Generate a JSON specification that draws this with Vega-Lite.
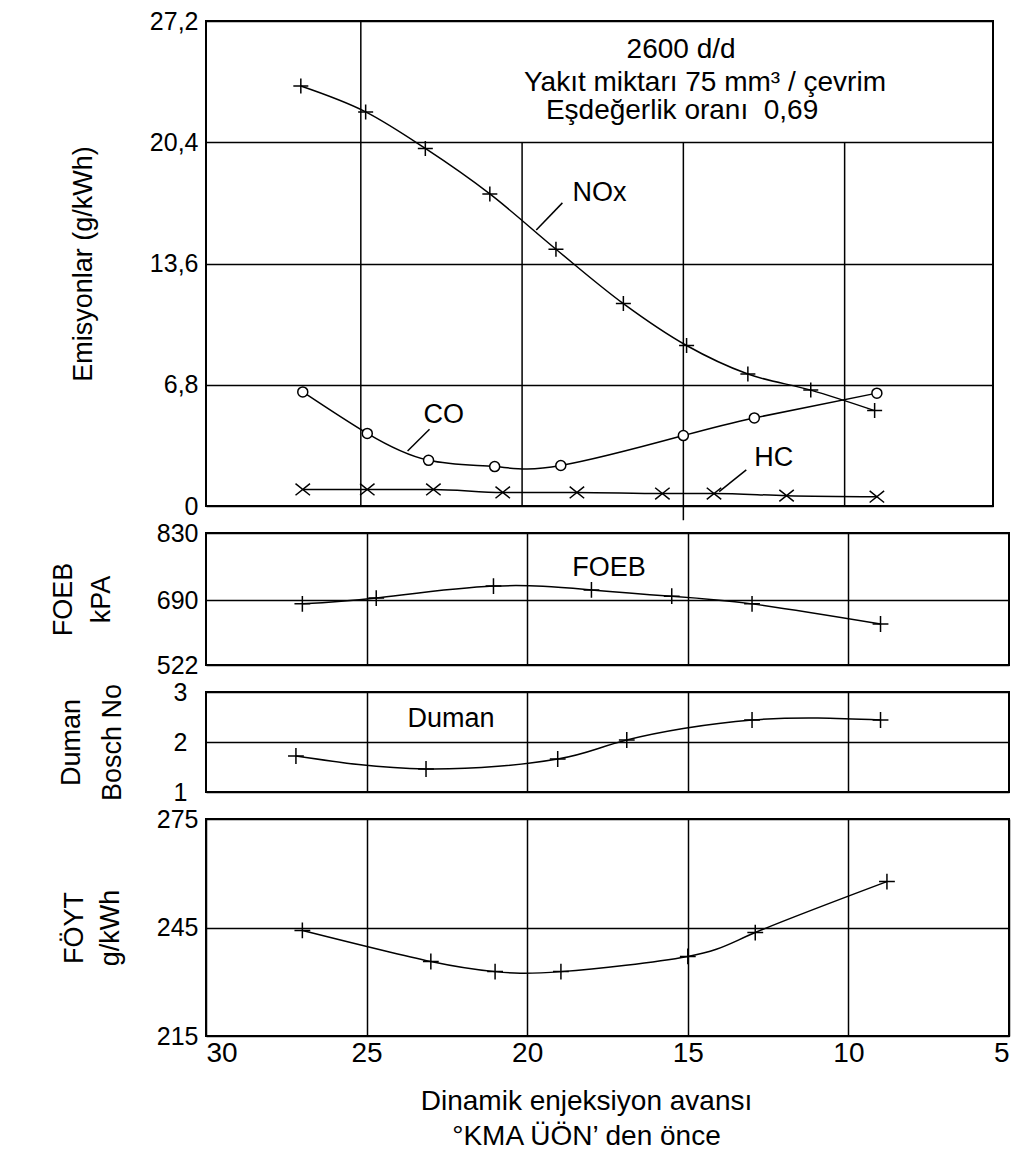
{
  "$schema": "https://vega.github.io/schema/vega-lite/v6.json",
  "padding": {"left": 48, "top": 8, "right": 5, "bottom": 5},
  "spacing": 27,
  "bounds": "flush",
  "background": "white",
  "config": {
    "view": {"stroke": "black", "strokeWidth": 2},
    "font": "Liberation Sans",
    "axis": {
      "labelFont": "Liberation Sans", "titleFont": "Liberation Sans",
      "labelColor": "black", "titleColor": "black", "titleFontWeight": "normal",
      "domain": false, "ticks": false, "gridColor": "black", "gridOpacity": 1, "gridWidth": 1.5,
      "labelFontSize": 25, "titleFontSize": 27
    }
  },
  "datasets": {
    "nox": [
      {"x": 26.86, "v": 23.55}, {"x": 24.85, "v": 22.1}, {"x": 23.0, "v": 20.05}, {"x": 21.0, "v": 17.5},
      {"x": 18.95, "v": 14.4}, {"x": 16.86, "v": 11.35}, {"x": 14.9, "v": 9.0}, {"x": 13.0, "v": 7.4},
      {"x": 11.05, "v": 6.5}, {"x": 9.07, "v": 5.35}
    ],
    "co": [
      {"x": 26.8, "v": 6.4}, {"x": 24.8, "v": 4.07}, {"x": 22.9, "v": 2.56}, {"x": 20.85, "v": 2.21},
      {"x": 18.8, "v": 2.27}, {"x": 15.0, "v": 3.95}, {"x": 12.8, "v": 4.94}, {"x": 9.0, "v": 6.33}
    ],
    "hc": [
      {"x": 26.8, "v": 0.93}, {"x": 24.8, "v": 0.93}, {"x": 22.75, "v": 0.93}, {"x": 20.6, "v": 0.76},
      {"x": 18.3, "v": 0.76}, {"x": 15.65, "v": 0.7}, {"x": 14.05, "v": 0.7}, {"x": 11.8, "v": 0.58}, {"x": 9.0, "v": 0.52}
    ],
    "gridTop": [
      {"x": 25, "y": 0, "y2": 27.2}, {"x": 20, "y": 0, "y2": 20.4}, {"x": 15, "y": -0.8, "y2": 20.4}, {"x": 10, "y": 0, "y2": 20.4}
    ],
    "leaders": [
      {"x": 19.56, "y": 15.48, "x2": 18.75, "y2": 17.0},
      {"x": 23.55, "y": 3.08, "x2": 22.87, "y2": 4.3},
      {"x": 13.89, "y": 0.81, "x2": 13.05, "y2": 2.03}
    ],
    "curveLabels": [
      {"x": 17.6, "y": 17.12, "t": "NOx"},
      {"x": 22.43, "y": 4.65, "t": "CO"},
      {"x": 12.2, "y": 2.27, "t": "HC"}
    ],
    "boxText": [
      {"x": 15.07, "y": 25.15, "t": "2600 d/d"},
      {"x": 14.33, "y": 23.3, "t": "Yakıt miktarı 75 mm³ / çevrim"},
      {"x": 15.04, "y": 21.7, "t": "Eşdeğerlik oranı\u00a0 0,69"}
    ],
    "foeb": [
      {"x": 27.0, "v": 680}, {"x": 24.7, "v": 694}, {"x": 21.05, "v": 719}, {"x": 18.0, "v": 711},
      {"x": 15.5, "v": 698}, {"x": 13.0, "v": 680}, {"x": 9.0, "v": 628}
    ],
    "duman": [
      {"x": 27.2, "v": 1.72}, {"x": 23.15, "v": 1.46}, {"x": 19.05, "v": 1.66}, {"x": 16.9, "v": 2.04},
      {"x": 13.0, "v": 2.44}, {"x": 9.0, "v": 2.44}
    ],
    "foyt": [
      {"x": 27.0, "v": 244.2}, {"x": 23.0, "v": 235.6}, {"x": 21.0, "v": 232.8}, {"x": 18.95, "v": 232.8},
      {"x": 15.0, "v": 237.0}, {"x": 12.9, "v": 243.6}, {"x": 8.8, "v": 257.7}
    ]
  },
  "vconcat": [
    {
      "width": 787, "height": 485,
      "encoding": {
        "x": {"field": "x", "type": "quantitative", "scale": {"domain": [5.4, 29.8], "reverse": true, "nice": false, "zero": false}, "axis": null},
        "y": {"field": "v", "type": "quantitative", "scale": {"domain": [0, 27.2], "nice": false},
          "axis": {"values": [0, 6.8, 13.6, 20.4, 27.2], "grid": true, "labelPadding": 8,
            "labelExpr": "datum.value == 0 ? '0' : replace(format(datum.value, '.1f'), '.', ',')",
            "title": "Emisyonlar (g/kWh)", "titlePadding": 52}}
      },
      "layer": [
        {"data": {"name": "gridTop"}, "mark": {"type": "rule", "color": "black", "strokeWidth": 1.5},
          "encoding": {"y": {"field": "y", "type": "quantitative"}, "y2": {"field": "y2"}}},
        {"data": {"name": "nox"}, "mark": {"type": "line", "color": "black", "strokeWidth": 1.5, "interpolate": "monotone"}},
        {"data": {"name": "co"}, "mark": {"type": "line", "color": "black", "strokeWidth": 1.5, "interpolate": "natural"}},
        {"data": {"name": "hc"}, "mark": {"type": "line", "color": "black", "strokeWidth": 1.5, "interpolate": "monotone"}},
        {"data": {"name": "nox"}, "mark": {"type": "point", "shape": "M-1,0L1,0M0,-1L0,1", "size": 225, "filled": false, "stroke": "black", "strokeWidth": 1.5, "opacity": 1}},
        {"data": {"name": "co"}, "mark": {"type": "point", "shape": "circle", "size": 100, "filled": true, "fill": "white", "stroke": "black", "strokeWidth": 1.5, "opacity": 1}},
        {"data": {"name": "hc"}, "mark": {"type": "point", "shape": "M-1,-0.8L1,0.8M-1,0.8L1,-0.8", "size": 210, "filled": false, "stroke": "black", "strokeWidth": 1.5, "opacity": 1}},
        {"data": {"name": "leaders"}, "mark": {"type": "rule", "color": "black", "strokeWidth": 1.5},
          "encoding": {"y": {"field": "y", "type": "quantitative"}, "x2": {"field": "x2"}, "y2": {"field": "y2"}}},
        {"data": {"name": "curveLabels"}, "mark": {"type": "text", "fontSize": 27, "align": "center", "baseline": "alphabetic", "color": "black"},
          "encoding": {"y": {"field": "y", "type": "quantitative"}, "text": {"field": "t"}}},
        {"data": {"name": "boxText"}, "mark": {"type": "text", "fontSize": 28, "align": "center", "baseline": "alphabetic", "color": "black"},
          "encoding": {"y": {"field": "y", "type": "quantitative"}, "text": {"field": "t"}}}
      ]
    },
    {
      "width": 803, "height": 132,
      "data": {"name": "foeb"},
      "encoding": {
        "x": {"field": "x", "type": "quantitative", "scale": {"domain": [5, 30], "reverse": true, "nice": false, "zero": false},
          "axis": {"values": [25, 20, 15, 10], "labels": false, "title": null, "grid": true}},
        "y": {"field": "v", "type": "quantitative", "scale": {"domain": [522, 690, 830], "range": [132, 67, 0], "nice": false, "zero": false},
          "axis": {"values": [522, 690, 830], "grid": true, "labelPadding": 8, "title": ["FOEB", "kPA"], "titleLineHeight": 38, "titlePadding": 41}}
      },
      "layer": [
        {"mark": {"type": "line", "color": "black", "strokeWidth": 1.5, "interpolate": "natural"}},
        {"mark": {"type": "point", "shape": "M-1,0L1,0M0,-1L0,1", "size": 250, "filled": false, "stroke": "black", "strokeWidth": 1.5, "opacity": 1}},
        {"data": {"values": [{"x": 17.45, "v": 740, "t": "FOEB"}]}, "mark": {"type": "text", "fontSize": 27, "align": "center", "baseline": "alphabetic", "color": "black"},
          "encoding": {"text": {"field": "t"}}}
      ]
    },
    {
      "width": 803, "height": 100,
      "data": {"name": "duman"},
      "encoding": {
        "x": {"field": "x", "type": "quantitative", "scale": {"domain": [5, 30], "reverse": true, "nice": false, "zero": false},
          "axis": {"values": [25, 20, 15, 10], "labels": false, "title": null, "grid": true}},
        "y": {"field": "v", "type": "quantitative", "scale": {"domain": [1, 3], "nice": false, "zero": false},
          "axis": {"values": [1, 2, 3], "labelExpr": "format(datum.value, 'd')", "labelOverlap": false, "grid": true, "labelPadding": 19, "title": ["Duman", "Bosch No"], "titleLineHeight": 41, "titlePadding": 47}}
      },
      "layer": [
        {"mark": {"type": "line", "color": "black", "strokeWidth": 1.5, "interpolate": "natural"}},
        {"mark": {"type": "point", "shape": "M-1,0L1,0M0,-1L0,1", "size": 250, "filled": false, "stroke": "black", "strokeWidth": 1.5, "opacity": 1}},
        {"data": {"values": [{"x": 22.37, "v": 2.3, "t": "Duman"}]}, "mark": {"type": "text", "fontSize": 27, "align": "center", "baseline": "alphabetic", "color": "black"},
          "encoding": {"text": {"field": "t"}}}
      ]
    },
    {
      "width": 803, "height": 217,
      "data": {"name": "foyt"},
      "encoding": {
        "x": {"field": "x", "type": "quantitative", "scale": {"domain": [5, 30], "reverse": true, "nice": false, "zero": false},
          "axis": {"values": [30, 25, 20, 15, 10, 5], "grid": true, "labelFontSize": 28, "labelPadding": 3,
            "title": ["Dinamik enjeksiyon avansı", "°KMA ÜÖN’ den önce"], "titleFontSize": 28, "titleLineHeight": 35, "titlePadding": 20, "titleX": 380}},
        "y": {"field": "v", "type": "quantitative", "scale": {"domain": [215, 275], "nice": false, "zero": false},
          "axis": {"values": [215, 245, 275], "grid": true, "labelPadding": 8, "title": ["FÖYT", "g/kWh"], "titleLineHeight": 36, "titlePadding": 32}}
      },
      "layer": [
        {"mark": {"type": "line", "color": "black", "strokeWidth": 1.5, "interpolate": "natural"}},
        {"mark": {"type": "point", "shape": "M-1,0L1,0M0,-1L0,1", "size": 250, "filled": false, "stroke": "black", "strokeWidth": 1.5, "opacity": 1}}
      ]
    }
  ]
}
